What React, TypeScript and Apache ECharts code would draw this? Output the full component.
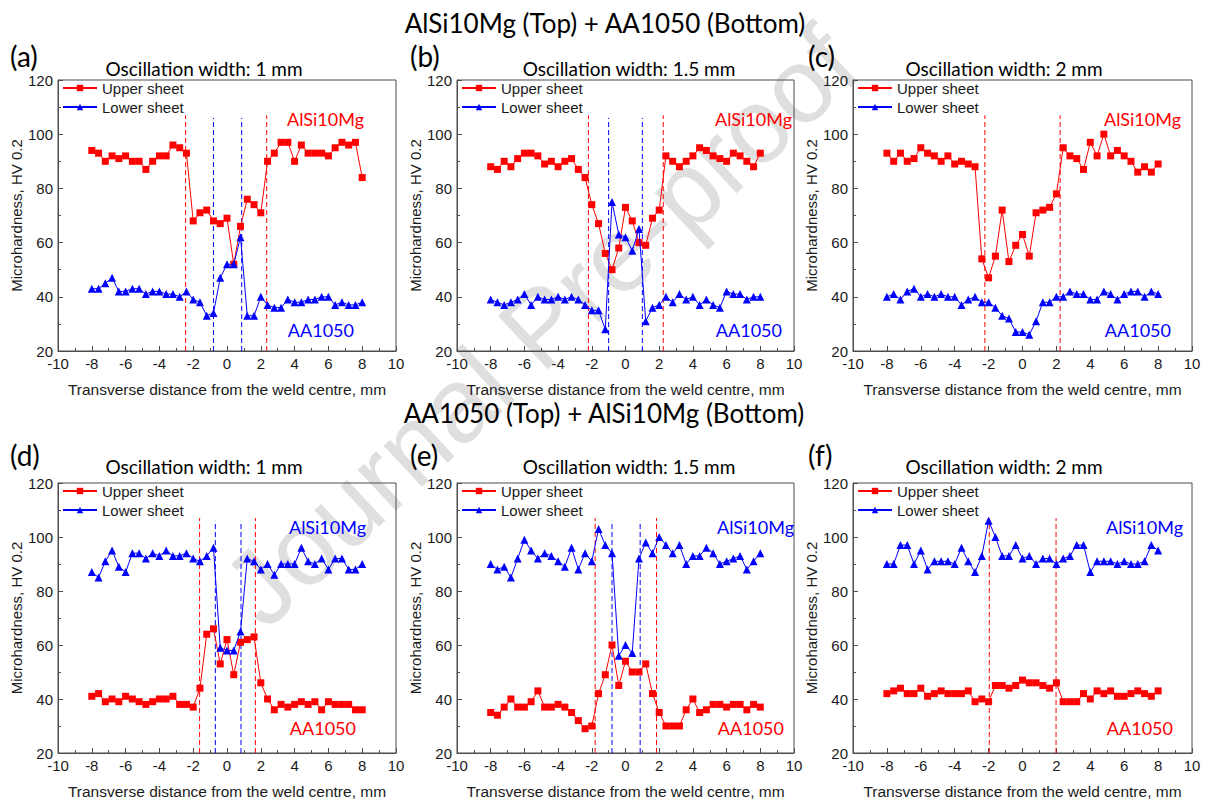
import React, { useEffect, useRef } from "react";
import * as echarts from "echarts";

// Measurement positions, mm
const xPos = [-8, -7.6, -7.2, -6.8, -6.4, -6, -5.6, -5.2, -4.8, -4.4, -4, -3.6, -3.2, -2.8, -2.4, -2, -1.6, -1.2, -0.8, -0.4, 0, 0.4, 0.8, 1.2, 1.6, 2, 2.4, 2.8, 3.2, 3.6, 4, 4.4, 4.8, 5.2, 5.6, 6, 6.4, 6.8, 7.2, 7.6, 8];

// (a) AlSi10Mg top + AA1050 bottom, 1 mm
const upperA = [94, 93, 90, 92, 91, 92, 90, 90, 87, 90, 92, 92, 96, 95, 93, 68, 71, 72, 68, 67, 69, 52, 66, 76, 74, 71, 90, 93, 97, 97, 90, 96, 93, 93, 93, 92, 95, 97, 96, 97, 84];
const lowerA = [43, 43, 45, 47, 42, 42, 43, 43, 41, 42, 42, 41, 41, 40, 42, 39, 38, 33, 34, 47, 52, 52, 62, 33, 33, 40, 37, 36, 36, 39, 38, 38, 39, 39, 40, 40, 37, 38, 37, 37, 38];
// (b) 1.5 mm
const upperB = [88, 87, 90, 88, 91, 93, 93, 92, 89, 90, 88, 90, 91, 87, 84, 74, 67, 56, 50, 58, 73, 68, 60, 59, 69, 72, 92, 90, 88, 90, 92, 95, 94, 92, 91, 90, 93, 92, 90, 88, 93];
const lowerB = [39, 38, 37, 38, 39, 41, 37, 40, 39, 39, 40, 39, 40, 39, 37, 35, 35, 28, 75, 63, 62, 57, 65, 31, 36, 37, 40, 38, 41, 39, 40, 37, 39, 37, 36, 42, 41, 41, 39, 40, 40];
// (c) 2 mm
const upperC = [93, 90, 93, 90, 91, 95, 93, 92, 90, 92, 89, 90, 89, 88, 54, 47, 55, 72, 53, 59, 63, 55, 71, 72, 73, 78, 95, 92, 91, 87, 97, 92, 100, 92, 94, 92, 90, 86, 88, 86, 89];
const lowerC = [40, 41, 39, 42, 43, 40, 41, 40, 41, 40, 40, 37, 39, 40, 38, 38, 36, 33, 32, 27, 27, 26, 31, 38, 38, 40, 40, 42, 41, 41, 39, 39, 42, 41, 39, 41, 42, 42, 40, 42, 41];
// (d) AA1050 top + AlSi10Mg bottom, 1 mm
const upperD = [41, 42, 39, 40, 39, 41, 40, 39, 38, 39, 40, 40, 41, 38, 38, 37, 44, 64, 66, 53, 62, 49, 61, 62, 63, 46, 40, 36, 38, 37, 38, 39, 38, 39, 36, 39, 38, 38, 38, 36, 36];
const lowerD = [87, 85, 91, 95, 89, 87, 94, 94, 92, 94, 93, 95, 93, 93, 94, 92, 91, 93, 96, 59, 58, 58, 65, 92, 91, 88, 90, 86, 90, 90, 90, 96, 91, 90, 92, 88, 92, 92, 88, 88, 90];
// (e) 1.5 mm
const upperE = [35, 34, 37, 40, 37, 37, 39, 43, 37, 37, 38, 37, 35, 32, 29, 30, 42, 49, 60, 45, 54, 50, 50, 53, 42, 35, 30, 30, 30, 36, 40, 35, 36, 38, 38, 37, 38, 38, 36, 38, 37];
const lowerE = [90, 88, 89, 85, 92, 99, 95, 92, 94, 93, 91, 89, 96, 88, 94, 91, 103, 97, 94, 56, 60, 57, 92, 98, 94, 100, 97, 94, 97, 90, 93, 93, 96, 94, 90, 91, 92, 93, 88, 91, 94];
// (f) 2 mm
const upperF = [42, 43, 44, 42, 42, 44, 41, 42, 43, 42, 42, 42, 43, 39, 40, 39, 45, 45, 44, 45, 47, 46, 46, 45, 44, 46, 39, 39, 39, 42, 40, 43, 42, 43, 41, 41, 42, 43, 42, 41, 43];
const lowerF = [90, 90, 97, 97, 90, 95, 88, 91, 91, 91, 90, 96, 91, 87, 93, 106, 100, 93, 93, 97, 92, 93, 90, 92, 92, 90, 92, 93, 97, 97, 87, 91, 91, 91, 90, 91, 90, 90, 91, 97, 95];

// Boundary (dashed) lines, mm
const redLinesA = [-2.45, 2.35];
const blueLinesA = [-0.8, 0.87];
const redLinesB = [-2.2, 2.24];
const blueLinesB = [-1.0, 1.0];
const redLinesC = [-2.22, 2.22];
const blueLinesC: number[] = [];
const redLinesD = [-1.62, 1.68];
const blueLinesD = [-0.69, 0.83];
const redLinesE = [-1.8, 1.84];
const blueLinesE = [-0.8, 0.87];
const redLinesF = [-1.96, 1.98];
const blueLinesF: number[] = [];
const dashRange = [20, 107];

const xTicks = { min: -10, max: 10, interval: 2 };
const yTicks = { min: 20, max: 120, interval: 20 };

const titles = ["AlSi10Mg (Top) + AA1050 (Bottom)", "AA1050 (Top) + AlSi10Mg (Bottom)"];
const panelLetters = ["(a)", "(b)", "(c)", "(d)", "(e)", "(f)"];
const subtitles = ["Oscillation width: 1 mm", "Oscillation width: 1.5 mm", "Oscillation width: 2 mm", "Oscillation width: 1 mm", "Oscillation width: 1.5 mm", "Oscillation width: 2 mm"];
const xName = "Transverse distance from the weld centre, mm";
const yName = "Microhardness, HV 0.2";
const legendNames = ["Upper sheet", "Lower sheet"];
const watermark = "Journal Pre-proof";

const RED = "#ff0000";
const BLUE = "#0000ff";
const AXIS = "#4d4d4d";
const TXT = "#1a1a1a";
const SANS = "'Liberation Sans', Arial, sans-serif";
const CAL = "Lato, 'Open Sans', sans-serif";

const panels = [
  { up: upperA, low: lowerA, rl: redLinesA, bl: blueLinesA, left: 58, top: 80, width: 338, height: 271, sub: 204, letterX: 10, topName: "AlSi10Mg", topColor: RED, botName: "AA1050", botColor: BLUE, labelRight: 364 },
  { up: upperB, low: lowerB, rl: redLinesB, bl: blueLinesB, left: 457, top: 80, width: 337, height: 271, sub: 629, letterX: 410, topName: "AlSi10Mg", topColor: RED, botName: "AA1050", botColor: BLUE, labelRight: 792 },
  { up: upperC, low: lowerC, rl: redLinesC, bl: blueLinesC, left: 853, top: 80, width: 339, height: 271, sub: 1004, letterX: 808, topName: "AlSi10Mg", topColor: RED, botName: "AA1050", botColor: BLUE, labelRight: 1181 },
  { up: upperD, low: lowerD, rl: redLinesD, bl: blueLinesD, left: 58, top: 483, width: 338, height: 270, sub: 204, letterX: 10, topName: "AlSi10Mg", topColor: BLUE, botName: "AA1050", botColor: RED, labelRight: 366 },
  { up: upperE, low: lowerE, rl: redLinesE, bl: blueLinesE, left: 457, top: 483, width: 337, height: 270, sub: 629, letterX: 410, topName: "AlSi10Mg", topColor: BLUE, botName: "AA1050", botColor: RED, labelRight: 794 },
  { up: upperF, low: lowerF, rl: redLinesF, bl: blueLinesF, left: 853, top: 483, width: 339, height: 270, sub: 1004, letterX: 808, topName: "AlSi10Mg", topColor: BLUE, botName: "AA1050", botColor: RED, labelRight: 1183 },
];

function dashSeries(x: number, color: string, idx: number, top: number, key: string) {
  return {
    name: "boundary-" + key,
    id: "boundary-" + key,
    type: "line",
    xAxisIndex: idx,
    yAxisIndex: idx,
    data: [[x, dashRange[0]], [x, top]],
    symbol: "none",
    silent: true,
    legendHoverLink: false,
    color,
    itemStyle: { color },
    lineStyle: { color, width: 1, type: [5, 3], opacity: 1 },
    emphasis: { disabled: true },
    z: 1,
  };
}

function buildOption() {
  const grid: any[] = [];
  const xAxis: any[] = [];
  const yAxis: any[] = [];
  const series: any[] = [];
  const legend: any[] = [];
  const graphic: any[] = [];

  graphic.push({
    type: "text",
    x: 540,
    y: 326,
    rotation: 0.75,
    z: -10,
    silent: true,
    style: {
      text: watermark,
      fontSize: 106,
      fontFamily: SANS,
      fill: "rgba(150,150,150,0.3)",
      align: "center",
      verticalAlign: "middle",
    },
  });

  graphic.push({ type: "text", x: 605, y: 23, style: { text: titles[0], fontSize: 26, fontFamily: CAL, fill: "#000", align: "center", verticalAlign: "middle" } });
  graphic.push({ type: "text", x: 604, y: 413, style: { text: titles[1], fontSize: 26, fontFamily: CAL, fill: "#000", align: "center", verticalAlign: "middle" } });

  panels.forEach((p, i) => {
    const rowTop = i < 3;
    grid.push({ left: p.left, top: p.top, width: p.width, height: p.height, show: true, borderColor: AXIS, borderWidth: 1, backgroundColor: "transparent" });
    xAxis.push({
      type: "value",
      gridIndex: i,
      ...xTicks,
      name: xName,
      nameLocation: "middle",
      nameGap: 30,
      nameTextStyle: { fontSize: 15.5, fontFamily: SANS, color: TXT },
      axisLine: { show: true, onZero: false, lineStyle: { color: AXIS, width: 1 } },
      axisTick: { show: true, inside: true, length: 5, lineStyle: { color: AXIS } },
      minorTick: { show: true, splitNumber: 2, length: 3, lineStyle: { color: AXIS } },
      axisLabel: { fontSize: 15, fontFamily: SANS, color: TXT, margin: 5 },
      splitLine: { show: false },
      minorSplitLine: { show: false },
    });
    yAxis.push({
      type: "value",
      gridIndex: i,
      ...yTicks,
      name: yName,
      nameLocation: "middle",
      nameGap: 33,
      nameTextStyle: { fontSize: 15, fontFamily: SANS, color: TXT },
      axisLine: { show: true, onZero: false, lineStyle: { color: AXIS, width: 1 } },
      axisTick: { show: true, inside: true, length: 5, lineStyle: { color: AXIS } },
      minorTick: { show: true, splitNumber: 2, length: 3, lineStyle: { color: AXIS } },
      axisLabel: { fontSize: 15, fontFamily: SANS, color: TXT, margin: 5 },
      splitLine: { show: false },
      minorSplitLine: { show: false },
    });
    p.rl.forEach((x, k) => series.push(dashSeries(x, RED, i, dashRange[1], i + "-r" + k)));
    p.bl.forEach((x, k) => series.push(dashSeries(x, BLUE, i, dashRange[1] - 1, i + "-b" + k)));
    series.push({
      name: legendNames[0],
      type: "line",
      xAxisIndex: i,
      yAxisIndex: i,
      data: xPos.map((x, k) => [x, p.up[k]]),
      symbol: "rect",
      symbolSize: 7,
      color: RED,
      lineStyle: { color: RED, width: 1 },
      itemStyle: { color: RED },
      z: 3,
    });
    series.push({
      name: legendNames[1],
      type: "line",
      xAxisIndex: i,
      yAxisIndex: i,
      data: xPos.map((x, k) => [x, p.low[k]]),
      symbol: "triangle",
      symbolSize: 8,
      color: BLUE,
      lineStyle: { color: BLUE, width: 1 },
      itemStyle: { color: BLUE },
      z: 4,
    });
    legend.push({
      data: legendNames,
      orient: "vertical",
      left: p.left + 4,
      top: p.top - 1,
      padding: 0,
      itemGap: 1,
      itemWidth: 34,
      itemHeight: 8,
      selectedMode: false,
      textStyle: { fontSize: 15, fontFamily: SANS, color: TXT, lineHeight: 18 },
    });
    const cy = rowTop ? 56 : 455;
    graphic.push({ type: "text", x: p.letterX, y: cy, style: { text: panelLetters[i], fontSize: 28, fontFamily: CAL, fill: "#000", align: "left", verticalAlign: "middle" } });
    graphic.push({ type: "text", x: p.sub, y: rowTop ? 68 : 466, style: { text: subtitles[i], fontSize: 19, fontFamily: CAL, fill: "#000", align: "center", verticalAlign: "middle" } });
    graphic.push({ type: "text", x: p.labelRight, y: rowTop ? 119 : 527, style: { text: p.topName, fontSize: 18, fontFamily: CAL, fill: p.topColor, align: "right", verticalAlign: "middle" } });
    graphic.push({ type: "text", x: p.labelRight - 10, y: rowTop ? 330 : 728, style: { text: p.botName, fontSize: 18, fontFamily: CAL, fill: p.botColor, align: "right", verticalAlign: "middle" } });
  });

  return {
    animation: false,
    backgroundColor: "#ffffff",
    grid,
    xAxis,
    yAxis,
    series,
    legend,
    graphic,
  };
}

export default function App() {
  const ref = useRef<HTMLDivElement>(null);
  useEffect(() => {
    if (!ref.current) return;
    const chart = echarts.init(ref.current, undefined, { renderer: "svg" });
    chart.setOption(buildOption() as any);
    return () => chart.dispose();
  }, []);
  return <div ref={ref} style={{ position: "fixed", left: 0, top: 0, width: 1210, height: 801 }} />;
}
